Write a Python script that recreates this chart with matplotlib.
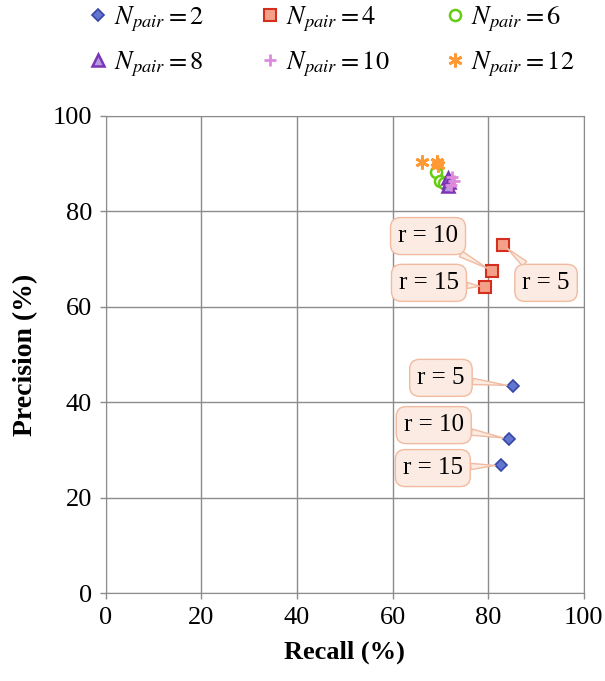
import matplotlib.pyplot as plt

plt.rcParams['font.family'] = ['Liberation Serif', 'DejaVu Serif']
plt.rcParams['mathtext.fontset'] = 'stix'

# recall / precision (%) for r = 5, 10, 15
recall_2 = [85.1, 84.3, 82.6]
prec_2 = [43.4, 32.3, 26.8]
recall_4 = [83.1, 80.8, 79.3]
prec_4 = [73.0, 67.5, 64.2]
recall_6 = [69.0, 70.0, 70.8]
prec_6 = [88.3, 86.4, 86.0]
recall_8 = [71.6, 71.8, 71.5]
prec_8 = [87.0, 86.2, 85.3]
recall_10 = [72.4, 72.8, 72.2]
prec_10 = [87.2, 86.4, 85.6]
recall_12 = [66.2, 69.2, 69.4]
prec_12 = [90.4, 90.4, 89.6]
r_labels = ["r = 5", "r = 10", "r = 15"]

fig = plt.figure(figsize=(6.05, 6.81), dpi=100)
ax = fig.add_axes([0.175, 0.129, 0.79, 0.701])

h2, = ax.plot(recall_2, prec_2, ls='none', marker='D', ms=6, mfc='#6275CF', mec='#3646A6', mew=1.2, label=r'$N_{pair}=2$')
h4, = ax.plot(recall_4, prec_4, ls='none', marker='s', ms=8, mfc='#F4A088', mec='#D42E1E', mew=1.5, label=r'$N_{pair}=4$')
h6, = ax.plot(recall_6, prec_6, ls='none', marker='o', ms=8, mfc='white', mec='#66CC11', mew=1.8, label=r'$N_{pair}=6$')
h8, = ax.plot(recall_8, prec_8, ls='none', marker='^', ms=8, mfc='#B79AE0', mec='#7A35B5', mew=1.8, label=r'$N_{pair}=8$')
h10, = ax.plot(recall_10, prec_10, ls='none', marker='+', ms=9, mec='#DD8ADD', mew=2, label=r'$N_{pair}=10$')
h12, = ax.plot(recall_12, prec_12, ls='none', marker=(6, 2, 0), ms=10, mec='#FF9933', mew=2, label=r'$N_{pair}=12$')

box = dict(boxstyle='round,pad=0.3,rounding_size=0.4', fc='#FBEBE2', ec='#F0BBA0', lw=1)
arrow = dict(arrowstyle='wedge,tail_width=0.25,shrink_factor=0.5', fc='#FBEBE2', ec='#F0BBA0', lw=1,
             shrinkA=0, shrinkB=4)

txt_pos_2 = [(70.1, 45.1), (68.6, 35.2), (68.4, 26.2)]
txt_pos_4 = [(92.1, 65.0), (67.4, 74.8), (67.6, 65.0)]
for xs, ys, pos in [(recall_2, prec_2, txt_pos_2), (recall_4, prec_4, txt_pos_4)]:
    for lab, x, y, p in zip(r_labels, xs, ys, pos):
        ax.annotate(lab, xy=(x, y), xytext=p, ha='center', va='center', fontsize=18,
                    bbox=box, arrowprops=arrow)

ax.set_xlim(0, 100)
ax.set_ylim(0, 100)
ax.set_xticks(range(0, 101, 20))
ax.set_yticks(range(0, 101, 20))
ax.tick_params(labelsize=19, length=4, width=1, color='#8c8c8c', pad=6)
ax.grid(True, color='#8c8c8c', lw=1)
for s in ax.spines.values():
    s.set_color('#8c8c8c')
ax.set_xlabel('Recall (%)', fontsize=19, fontweight='bold', labelpad=8)
ax.set_ylabel('Precision (%)', fontsize=20, fontweight='bold', labelpad=10)

handles = [h2, h4, h6, h8, h10, h12]
# matplotlib fills legend columns first, so reorder to read row by row
order = [0, 3, 1, 4, 2, 5]
fig.legend([handles[i] for i in order], [handles[i].get_label() for i in order],
           loc='upper center', bbox_to_anchor=(0.545, 1.028), ncol=3, frameon=False,
           fontsize=19, handletextpad=0.1, columnspacing=2.0, handlelength=1.0,
           labelspacing=0.6)

fig.savefig('out.png')
